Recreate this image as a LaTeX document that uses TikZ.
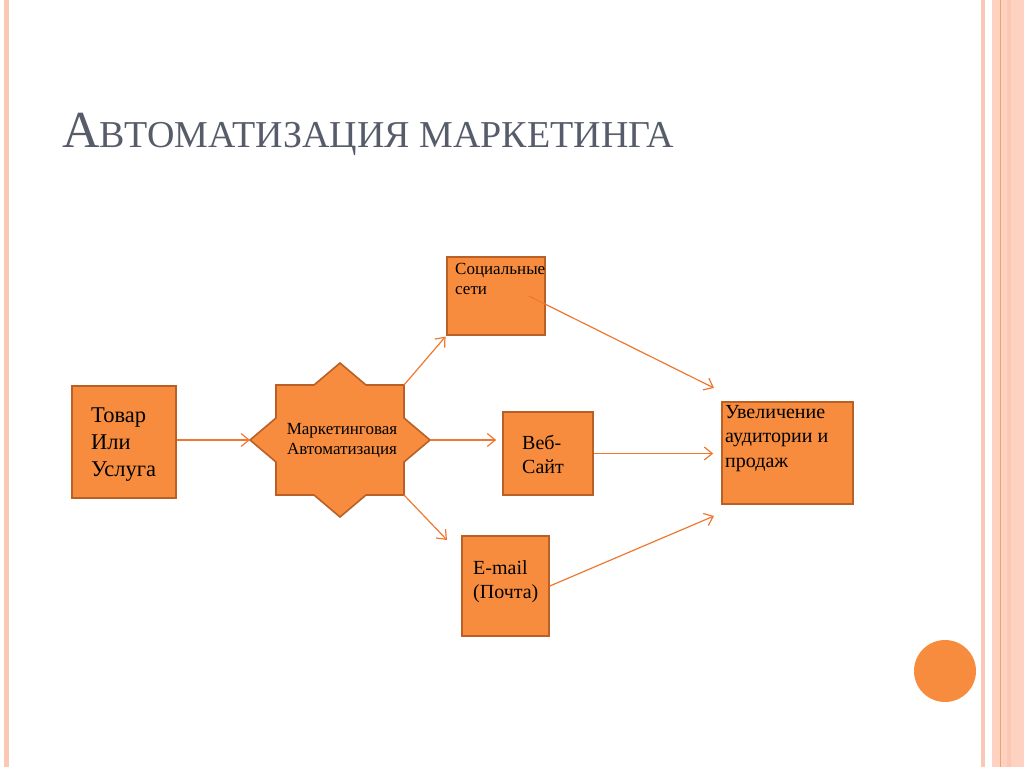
\documentclass[tikz,border=0pt]{standalone}
\usepackage{fontspec}
\setmainfont{Liberation Serif}
\usetikzlibrary{positioning,arrows.meta,calc}
\definecolor{orfill}{RGB}{247,140,62}
\definecolor{ordraw}{RGB}{184,96,38}
\definecolor{orline}{RGB}{238,120,48}
\definecolor{stripe}{RGB}{251,200,182}
\definecolor{stripelt}{RGB}{253,210,192}
\definecolor{titlegray}{RGB}{86,92,106}
\tikzset{
    >={Straight Barb[length=8pt,width=13pt]},
    box/.style={
        rectangle,
        fill=orfill,
        draw=ordraw, line width=1.6pt,
        inner sep=0pt
    },
    txt/.style={align=left, inner sep=0pt, anchor=north west},
    link/.style={draw=orline, line width=1.2pt, ->}
}

\begin{document}
\begin{tikzpicture}[x=1pt, y=-1pt]
    \useasboundingbox (0,0) rectangle (1024,767);
    % page decoration
    \fill[stripe] (4,0) rectangle (9,767);
    \fill[stripe] (981,0) rectangle (985,767);
    \fill[stripelt] (992,0) rectangle (1024,767);
    \fill[stripe] (1007,0) rectangle (1011,767);
    \draw[orline!70, line width=0.8pt] (1000,0) -- (1000,767);
    \fill[orfill] (945,671) circle (31);

    \node[anchor=base west, inner sep=0pt, text=titlegray] (title) at (62,148)
        {\fontsize{52}{54}\selectfont А\fontsize{38}{40}\selectfont ВТОМАТИЗАЦИЯ МАРКЕТИНГА};

    % boxes
    \node[box, minimum width=104, minimum height=112] (tovar) at (124,442) {};
    \node[box, minimum width=98,  minimum height=78]  (soc)   at (496,296) {};
    \node[box, minimum width=90,  minimum height=83]  (veb)   at (548,453.5) {};
    \node[box, minimum width=87,  minimum height=100] (mail)  at (505.5,586) {};
    \node[box, minimum width=131, minimum height=102] (uvel)  at (787.5,453) {};

    \node[txt, font=\fontsize{22.5}{27}\selectfont] (tovar-t) at (91,408) {Товар\\Или\\Услуга};
    \node[txt, font=\fontsize{17}{20}\selectfont] (soc-t) at (455,263) {Социальные\\сети};
    \node[txt, font=\fontsize{20}{24}\selectfont] (veb-t) at (522,435) {Веб-\\Сайт};
    \node[txt, font=\fontsize{20}{24}\selectfont] (mail-t) at (473,560) {E-mail\\(Почта)};
    \node[txt, font=\fontsize{20}{24.5}\selectfont] (uvel-t) at (725,405) {Увеличение\\аудитории и\\продаж};

    % star
    \begin{scope}[shift={(340,440)}]
        \draw[box] (0,-77) -- (26,-55) -- (64,-55) -- (64,-22) -- (90,0) -- (64,22)
            -- (64,55) -- (26,55) -- (0,77) -- (-26,55) -- (-64,55) -- (-64,22)
            -- (-90,0) -- (-64,-22) -- (-64,-55) -- (-26,-55) -- cycle;
        \coordinate (mk-w) at (-90,0);
        \coordinate (mk-e) at (90,0);
        \coordinate (mk-ne) at (64,-55);
        \coordinate (mk-se) at (64,55);
    \end{scope}
    \node[align=center, inner sep=0pt, font=\fontsize{17}{20}\selectfont] (mkt) at (342,441)
        {Маркетинговая\\Автоматизация};

    \coordinate (mail-in) at (447,540);
    \coordinate (uv-a) at (714,388);
    \coordinate (uv-c) at (714,516);

    % connectors
    \draw[link] (tovar.east |- mk-w) -- (mk-w);
    \draw[link, shorten >=1pt] (mk-ne) -- (soc.south west);
    \draw[link, shorten >=6pt] (mk-e) -- (mk-e -| veb.west);
    \draw[link] (mk-se) -- (mail-in);
    \draw[link] ([xshift=-17pt]soc.east) -- (uv-a);
    \draw[link, shorten >=8pt] (veb.east) -- (veb.east -| uvel.west);
    \draw[link] (mail.east) -- (uv-c);
\end{tikzpicture}
\end{document}
